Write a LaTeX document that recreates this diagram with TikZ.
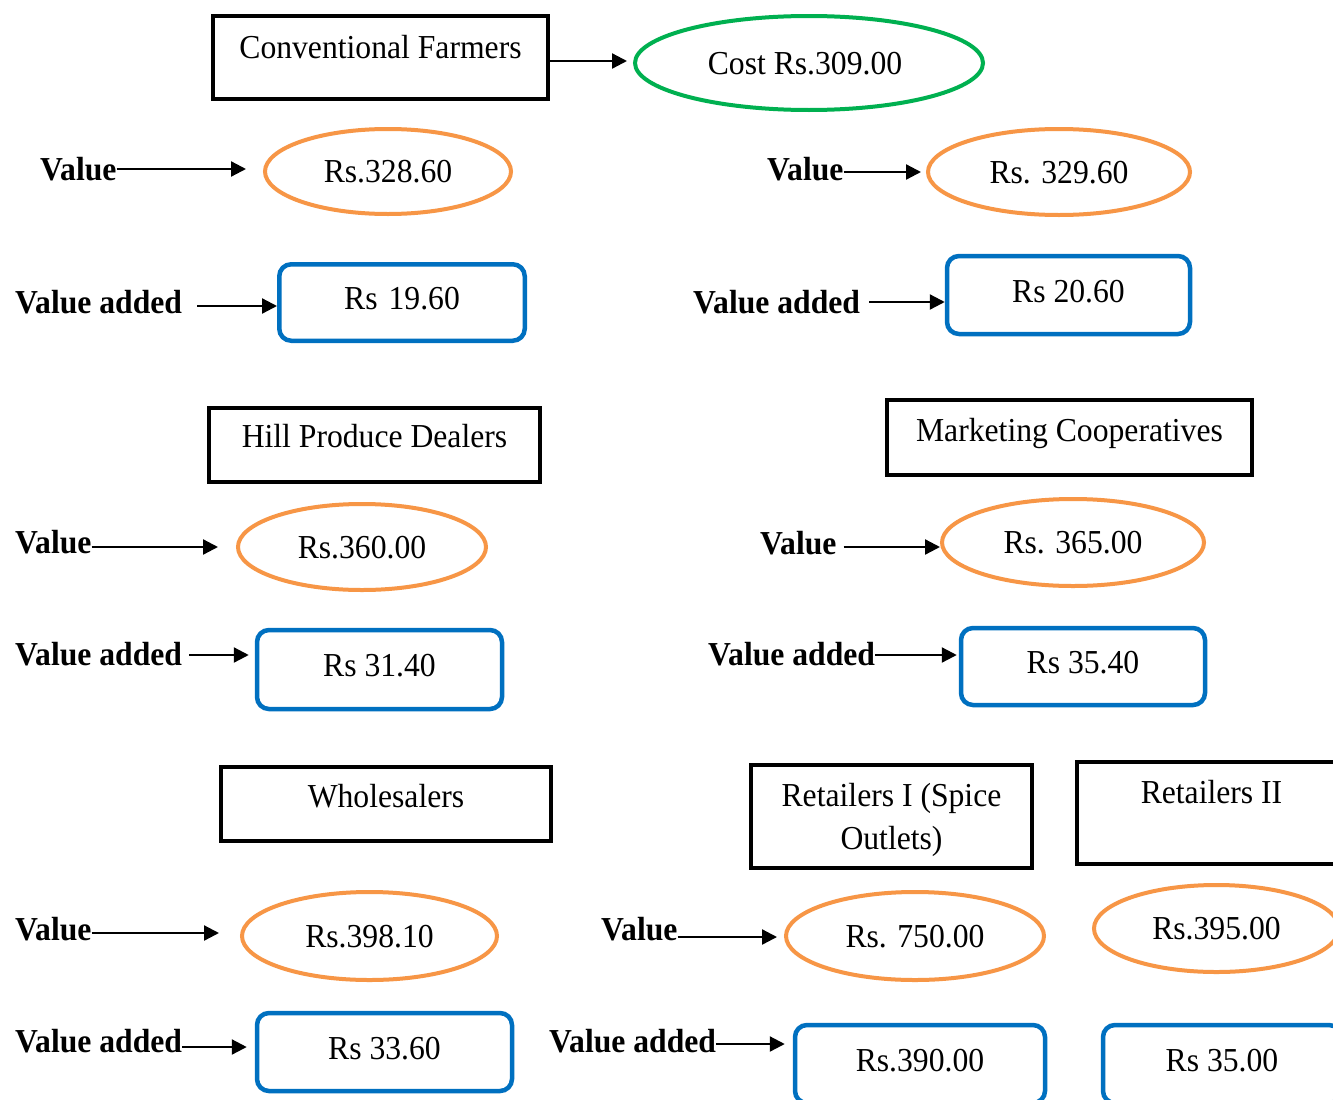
\documentclass[tikz,border=0pt]{standalone}
\usepackage{fontspec}
\setmainfont[FakeStretch=0.945]{Liberation Serif}
\usetikzlibrary{shapes.geometric,arrows.meta,calc}

\definecolor{vorange}{HTML}{F79646}
\definecolor{cgreen}{HTML}{00B050}
\definecolor{vblue}{HTML}{0070C0}

% arrow from a label to a value shape: label, target, start gap, lift, end gap
\newcommand\valarrow[5]{%
  \draw[arr] ($(#1.base east)+(#3,-#4)$) -- ($(#1.base east -| #2.west)+(-#5,-#4)$);}

\begin{document}
\begin{tikzpicture}[x=1pt,y=-1pt,
  font=\fontsize{33.5}{43}\selectfont,
  titlebox/.style={draw=black, line width=4pt, rectangle, inner sep=0pt, text height=22.5pt},
  valell/.style={draw=vorange, line width=4pt, ellipse, inner sep=0pt, text height=22.5pt, text depth=0pt},
  costell/.style={valell, draw=cgreen},
  addbox/.style={draw=vblue, line width=4.5pt, rectangle, rounded corners=12pt, inner sep=0pt,
                 text height=22.5pt, text depth=8pt},
  lab/.style={font=\fontsize{33.5}{43}\selectfont\bfseries, inner sep=0pt, anchor=base west},
  arr/.style={line width=2.3pt, -{Triangle[length=15pt,width=15pt]}}]

\useasboundingbox (0,0) rectangle (1333,1100);
\clip (0,0) rectangle (1333,1100);
\fill[white] (0,0) rectangle (1333,1100);

% ---- Conventional farmers ----
\node[titlebox, minimum width=335, minimum height=83, text depth=21pt] (cf) at (380.5,57.5) {Conventional Farmers};
\node[costell, minimum width=348, minimum height=94] (cost) at (809,63) {\hspace*{-8pt}Cost Rs.309.00};
\draw[arr] ($(cf.east)+(0,3.5)$) -- ($(cf.east -| cost.west)+(-6,3.5)$);

\node[valell, minimum width=246, minimum height=85] (v1) at (388,171.5) {Rs.328.60};
\node[valell, minimum width=262, minimum height=86] (v2) at (1059,172) {Rs. 329.60};
\node[addbox, minimum width=245.5, minimum height=76.5] (a1) at (402,302.5) {Rs\hspace{0.33em}19.60};
\node[addbox, minimum width=243, minimum height=78] (a2) at (1068.5,295) {Rs 20.60};

\node[lab] (l1) at (40,180) {Value};
\node[lab] (l2) at (15,313) {Value added};
\node[lab] (l3) at (767,180) {Value};
\node[lab] (l4) at (693,313) {Value added};
\valarrow{l1}{v1}{0}{11}{17}
\valarrow{l2}{a1}{15}{7}{0}
\valarrow{l3}{v2}{0}{8}{5}
\valarrow{l4}{a2}{9}{11}{0}

% ---- Hill produce dealers / marketing cooperatives ----
\node[titlebox, minimum width=331, minimum height=74, text depth=18pt] (hpd) at (374.5,445) {Hill Produce Dealers};
\node[titlebox, minimum width=365, minimum height=75, text depth=15pt] (mc) at (1069.5,437.5) {Marketing Cooperatives};

\node[valell, minimum width=248, minimum height=86] (v3) at (362,547) {Rs.360.00};
\node[valell, minimum width=262, minimum height=87] (v4) at (1073,542.5) {Rs. 365.00};
\node[addbox, minimum width=245, minimum height=79] (a3) at (379.5,669.5) {Rs 31.40};
\node[addbox, minimum width=244, minimum height=77] (a4) at (1083,666.5) {Rs 35.40};

\node[lab] (l5) at (15,553) {Value};
\node[lab] (l6) at (15,665) {Value added};
\node[lab] (l7) at (760,554) {Value};
\node[lab] (l8) at (708,665) {Value added};
\valarrow{l5}{v3}{0}{6}{18}
\valarrow{l6}{a3}{7}{10}{6}
\valarrow{l7}{v4}{7}{7}{0}
\valarrow{l8}{a4}{0}{10}{2}

% ---- Wholesalers / retailers ----
\node[titlebox, minimum width=330, minimum height=74, text depth=16pt] (ws) at (386,804) {Wholesalers};
\node[titlebox, minimum width=281, minimum height=103, align=center, text height=65.5pt, text depth=0pt] (r1) at (891.5,816.5) {Retailers I (Spice\\Outlets)};
\node[titlebox, minimum width=269, minimum height=102, text depth=41pt] (r2) at (1211.5,813) {Retailers II};

\node[valell, minimum width=255, minimum height=88] (v5) at (369.5,936) {Rs.398.10};
\node[valell, minimum width=258, minimum height=88] (v6) at (915,936) {Rs. 750.00};
\node[valell, minimum width=245, minimum height=87] (v7) at (1216.5,928.5) {Rs.395.00};
\node[addbox, minimum width=255, minimum height=78] (a5) at (384.5,1052) {Rs 33.60};
\node[addbox, minimum width=250, minimum height=78] (a6) at (920,1064) {Rs.390.00};
\node[addbox, minimum width=238, minimum height=78] (a7) at (1222,1064) {Rs 35.00};

\node[lab] (l9) at (15,940) {Value};
\node[lab] (l10) at (15,1052) {Value added};
\node[lab] (l11) at (601,940) {Value};
\node[lab] (l12) at (549,1052) {Value added};
\valarrow{l9}{v5}{0}{7}{21}
\valarrow{l10}{a5}{0}{5}{8}
\valarrow{l11}{v6}{0}{3}{7}
\valarrow{l12}{a6}{0}{8}{8}

\end{tikzpicture}
\end{document}
